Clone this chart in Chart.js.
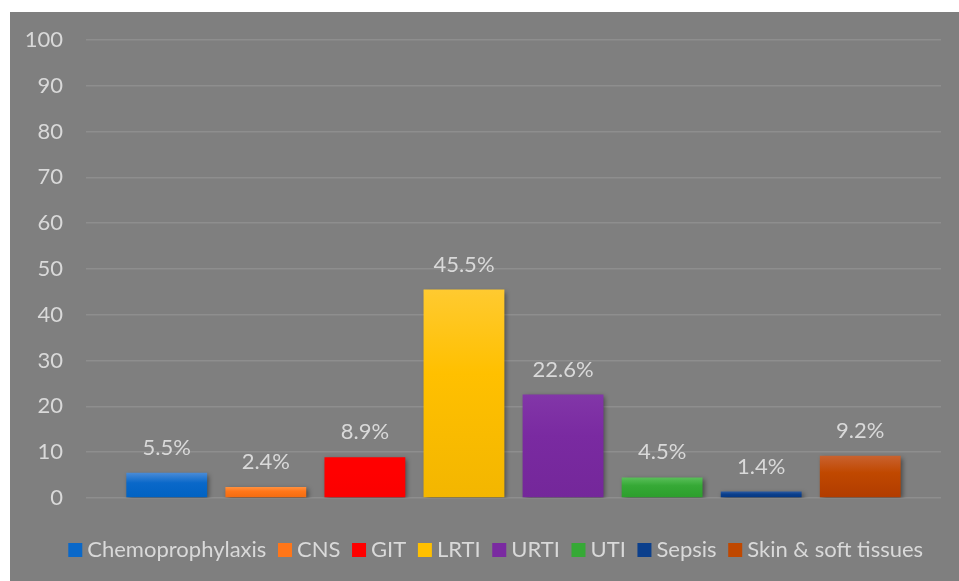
<!DOCTYPE html>
<html>
<head>
<meta charset="utf-8">
<script src="https://cdn.jsdelivr.net/npm/chart.js@4"></script>
<style>
  html, body { margin: 0; padding: 0; background: #ffffff; }
  #wrap { position: absolute; left: 10px; top: 12px; width: 949px; height: 569px; background: #7f7f7f; }
</style>
</head>
<body>
<div id="wrap"><canvas id="chart_infections"></canvas></div>
<script>
// values
var categories = ['Chemoprophylaxis', 'CNS', 'GIT', 'LRTI', 'URTI', 'UTI', 'Sepsis', 'Skin & soft tissues'];
var percentages = [5.5, 2.4, 8.9, 45.5, 22.6, 4.5, 1.4, 9.2];
var yTicks = [0, 10, 20, 30, 40, 50, 60, 70, 80, 90, 100];

// [top, middle, bottom] colour of each bar
var barColours = [
    ['#4a8bd6', '#0a68c9', '#0062c2'],
    ['#ff9140', '#ff7619', '#f26b10'],
    ['#ff0000', '#ff0000', '#fa0000'],
    ['#ffca30', '#ffc000', '#f3b600'],
    ['#8236a8', '#7a2aa1', '#74279a'],
    ['#5abf5a', '#36a936', '#2c9e2c'],
    ['#2a5aa3', '#0b3f8c', '#033682'],
    ['#c9622f', '#c04800', '#b13c00']
];

var textColour = '#d9d9d9';
var fontFamily = 'Lato, "Open Sans", sans-serif';

function barGradient(i) {
    return function(context) {
        var chart = context.chart;
        if (!chart.chartArea || !chart.scales.y) return barColours[i][1];
        var y = chart.scales.y;
        var top = y.getPixelForValue(percentages[i]);
        var bottom = y.getPixelForValue(0);
        if (!isFinite(top) || bottom - top < 1) return barColours[i][1];
        var g = chart.ctx.createLinearGradient(0, top, 0, bottom);
        g.addColorStop(0, barColours[i][0]);
        g.addColorStop(0.4, barColours[i][1]);
        g.addColorStop(1, barColours[i][2]);
        return g;
    };
}

var datasets = categories.map(function(name, i) {
    return {
        label: name,
        data: [percentages[i]],
        backgroundColor: barGradient(i),
        borderWidth: 0
    };
});

// soft shadow under every bar
var barShadow = {
    id: 'barShadow',
    beforeDatasetDraw: function(chart) {
        var ctx = chart.ctx;
        ctx.save();
        ctx.shadowColor = 'rgba(0, 0, 0, 0.45)';
        ctx.shadowBlur = 5;
        ctx.shadowOffsetX = 2;
        ctx.shadowOffsetY = 2;
    },
    afterDatasetDraw: function(chart) {
        chart.ctx.restore();
    }
};

// percent labels above the bars
var valueLabels = {
    id: 'valueLabels',
    afterDatasetsDraw: function(chart) {
        var ctx = chart.ctx;
        ctx.save();
        ctx.font = '22px ' + fontFamily;
        ctx.fillStyle = textColour;
        ctx.textAlign = 'center';
        ctx.textBaseline = 'middle';
        chart.data.datasets.forEach(function(ds, i) {
            var el = chart.getDatasetMeta(i).data[0];
            ctx.fillText(ds.data[0].toFixed(1) + '%', el.x, el.y - 25);
        });
        ctx.restore();
    }
};

// the legend sits a little right of centre in the original
var legendShift = {
    id: 'legendShift',
    afterLayout: function(chart) {
        chart.legend.left += 26;
        chart.legend.right += 26;
    }
};

var chart_infections = new Chart(document.getElementById('chart_infections'), {
    type: 'bar',
    data: {
        labels: [''],
        datasets: datasets
    },
    plugins: [barShadow, valueLabels, legendShift],
    options: {
        responsive: true,
        maintainAspectRatio: false,
        animation: false,
        layout: {
            padding: { left: 0, right: 18, top: 28, bottom: 10 }
        },
        datasets: {
            bar: {
                categoryPercentage: 0.927,
                barPercentage: 0.816
            }
        },
        plugins: {
            tooltip: { enabled: false },
            legend: {
                position: 'bottom',
                labels: {
                    // narrow box with a thick stroke, so the square sits close to its text
                    boxWidth: 2,
                    boxHeight: 2,
                    padding: 12,
                    color: textColour,
                    font: { family: fontFamily, size: 22 },
                    generateLabels: function(chart) {
                        return chart.data.datasets.map(function(ds, i) {
                            return {
                                text: ds.label + ' ',
                                fillStyle: barColours[i][1],
                                strokeStyle: barColours[i][1],
                                lineWidth: 12,
                                lineJoin: 'miter',
                                fontColor: textColour,
                                hidden: false,
                                datasetIndex: i
                            };
                        });
                    }
                }
            }
        },
        scales: {
            x: {
                grid: { display: false },
                border: { display: false },
                ticks: { display: false },
                afterFit: function(scale) { scale.height = 29; }
            },
            y: {
                min: 0,
                max: 100,
                afterBuildTicks: function(scale) {
                    scale.ticks = yTicks.map(function(v) { return { value: v }; });
                },
                afterFit: function(scale) {
                    scale.width = 76;
                    scale.paddingTop = 0;
                    scale.paddingBottom = 0;
                },
                grid: { color: '#8e8e8e', lineWidth: 1.5, drawTicks: false },
                border: { display: false },
                ticks: {
                    padding: 23,
                    color: textColour,
                    font: { family: fontFamily, size: 22 }
                }
            }
        }
    }
});
</script>
</body>
</html>
